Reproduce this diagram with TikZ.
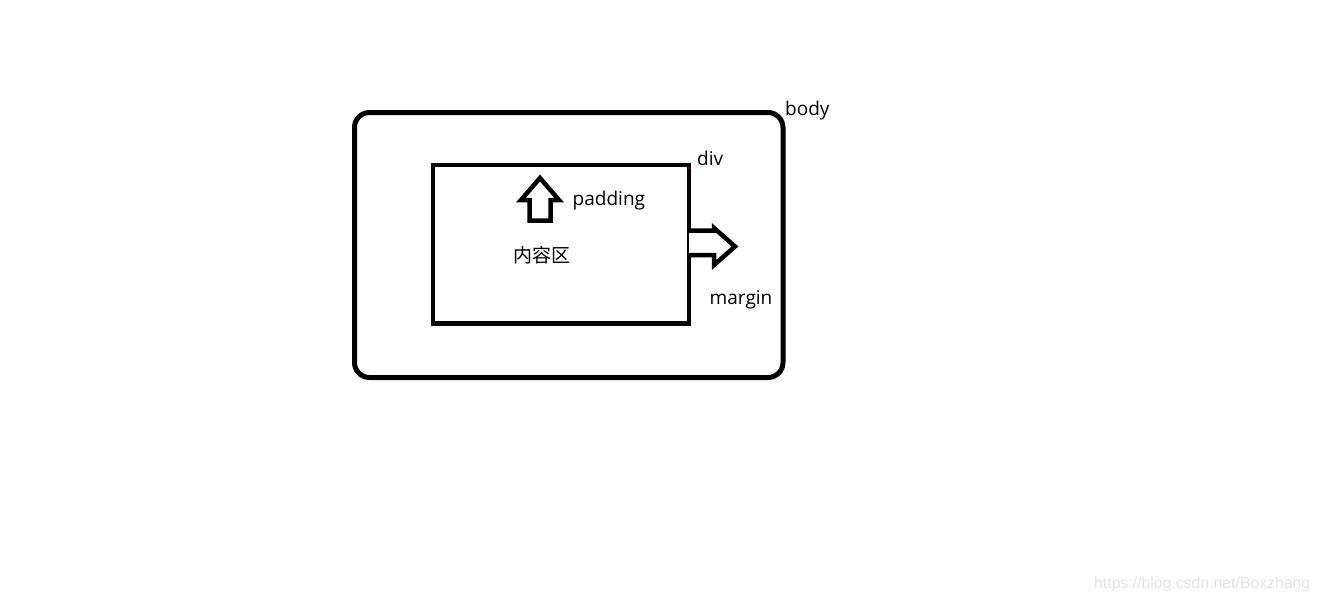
\documentclass[tikz,border=0pt]{standalone}
\usepackage{fontspec}
\setmainfont{Open Sans}
\newfontfamily\cjkfont{Noto Sans CJK SC}
\newfontfamily\wmfont{Liberation Sans}
\begin{document}
\begin{tikzpicture}[x=1pt,y=-1pt,
  boxline/.style={draw=black,line width=5pt},
  arrowshape/.style={draw=black,line width=4.5pt,line join=miter,fill=white},
  lbl/.style={inner sep=0pt,anchor=base west,font=\fontsize{19}{22}\selectfont},
  cjklbl/.style={inner sep=0pt,anchor=base west,font=\cjkfont\fontsize{19}{22}\selectfont},
  wm/.style={inner sep=0pt,anchor=base west,text=black!11,font=\wmfont\fontsize{15.8}{18}\selectfont}]
\useasboundingbox[fill=white] (0,0) rectangle (1318,600);
% outer body box
\draw[boxline,rounded corners=15pt] (354.5,112.5) rectangle (783,377.5);
% inner div box
\draw[boxline,line width=4.6pt,line join=miter] (433,165) rectangle (689,323.5);
% padding arrow (up)
\draw[arrowshape] (540,178) -- (559,200) -- (550.5,200) -- (550.5,220.5)
  -- (529.5,220.5) -- (529.5,200) -- (521,200) -- cycle;
% margin arrow (right)
\draw[arrowshape] (689,230.5) -- (714,230.5) -- (714,228) -- (735,246.5)
  -- (714,265) -- (714,255) -- (689,255);
% small red mark at div corner
\fill[red!60!black] (689.5,168) circle (1.3pt);
% labels
\node[lbl] (body) at (785,115) {body};
\node[lbl] (div) at (697,165.5) {div};
\node[lbl] (padding) at (572.5,205) {padding};
\node[cjklbl] (content) at (513,262) {内容区};
\node[lbl] (margin) at (709.5,304) {margin};
\node[wm] (wmark) at (1094,588) {https://blog.csdn.net/Boxzhang};
\end{tikzpicture}
\end{document}
